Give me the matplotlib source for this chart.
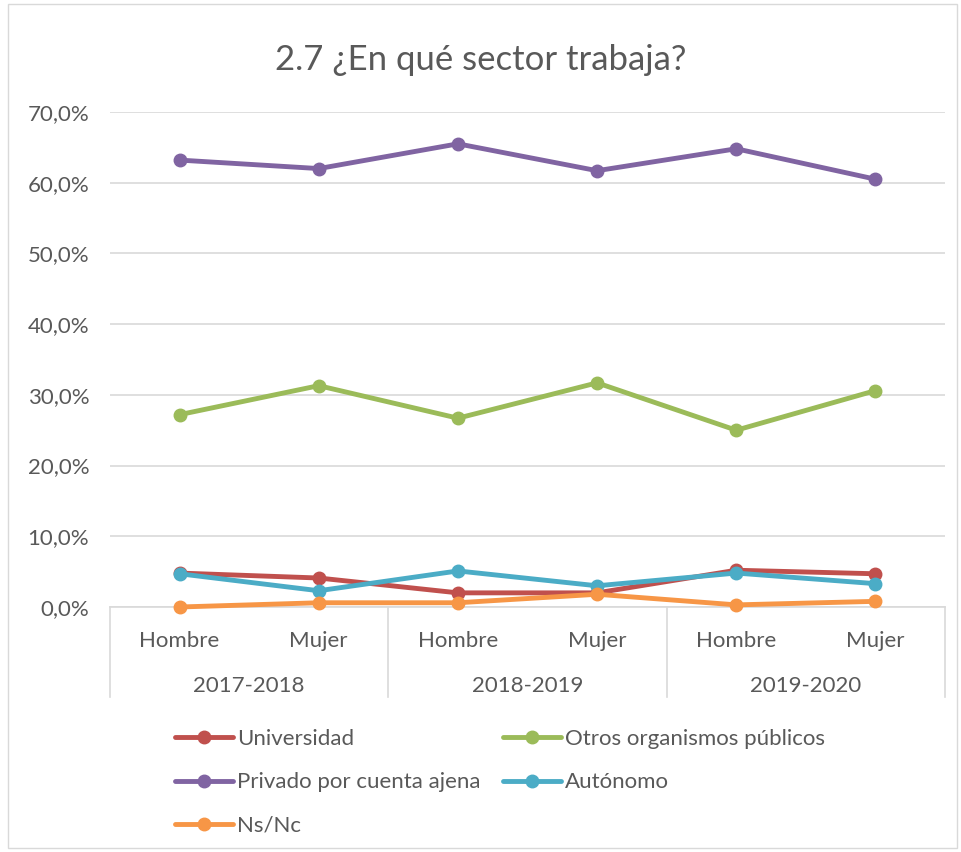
import numpy as np
import matplotlib
matplotlib.use('Agg')
from matplotlib import pyplot as plt
from matplotlib.patches import Rectangle
import matplotlib.transforms as mtransforms

plt.rcParams['font.family'] = ['Lato', 'DejaVu Sans']

# Data
sexes = ['Hombre', 'Mujer', 'Hombre', 'Mujer', 'Hombre', 'Mujer']
years = ['2017-2018', '2018-2019', '2019-2020']
series_names = ['Universidad', 'Otros organismos públicos', 'Privado por cuenta ajena',
                'Autónomo', 'Ns/Nc']
universidad = [4.8, 4.1, 2.0, 2.0, 5.2, 4.7]
otros_publicos = [27.2, 31.3, 26.7, 31.7, 25.0, 30.6]
privado = [63.2, 62.0, 65.5, 61.7, 64.8, 60.5]
autonomo = [4.7, 2.3, 5.1, 3.0, 4.8, 3.3]
ns_nc = [0.0, 0.6, 0.6, 1.8, 0.3, 0.8]
yticks = [0, 10, 20, 30, 40, 50, 60, 70]

colors = ['#C0504D', '#9BBB59', '#8064A2', '#4BACC6', '#F79646']
values = [universidad, otros_publicos, privado, autonomo, ns_nc]
gray = '#595959'
fs = 16

fig = plt.figure(figsize=(9.62, 8.52), dpi=100)
ax = fig.add_axes([110 / 962, 245 / 852, 835 / 962, 495 / 852])

x = np.arange(len(sexes))
lines = []
for name, vals, c in zip(series_names, values, colors):
    ln, = ax.plot(x, vals, color=c, lw=3.5, marker='o', ms=9, label=name,
                  solid_capstyle='round', clip_on=False, zorder=3)
    lines.append(ln)

ax.set_xlim(-0.5, len(sexes) - 0.5)
ax.set_ylim(0, 70)
ax.set_yticks(yticks)
ax.set_yticklabels([f'{v:.1f}%'.replace('.', ',') for v in yticks], fontsize=fs, color=gray)
ax.set_xticks(x)
ax.set_xticklabels(sexes, fontsize=fs, color=gray)
ax.tick_params(axis='y', length=0, pad=15)
ax.tick_params(axis='x', length=0, pad=17)
ax.grid(axis='y', color='#D9D9D9', lw=1.2)
ax.set_axisbelow(True)
for s in ['top', 'right', 'left']:
    ax.spines[s].set_visible(False)
ax.spines['bottom'].set_color('#D9D9D9')
ax.spines['bottom'].set_linewidth(1.2)

# second level category labels and separators
trans = mtransforms.blended_transform_factory(ax.transData, ax.transAxes)
for i, yr in enumerate(years):
    ax.text(2 * i + 0.5, -0.16, yr, transform=trans, ha='center', va='center',
            fontsize=fs, color=gray)
for b in np.arange(len(years) + 1) * 2 - 0.5:
    ax.plot([b, b], [0, -0.182], transform=trans, color='#D9D9D9', lw=1.2,
            clip_on=False)

fig.text(0.5, (852 - 60) / 852, '2.7 ¿En qué sector trabaja?', ha='center', va='center',
         fontsize=25, color=gray)

order = [0, 2, 4, 1, 3]
fig.legend([lines[i] for i in order], [series_names[i] for i in order], ncol=2,
           loc='upper left', bbox_to_anchor=(175 / 962, (852 - 729) / 852),
           frameon=False, fontsize=fs, labelcolor=gray, handlelength=2.6,
           handletextpad=0.2, columnspacing=1.0, labelspacing=1.05, borderpad=0,
           borderaxespad=0)

fig.patches.append(Rectangle((8 / 962, 4 / 852), 949 / 962, 844 / 852,
                             transform=fig.transFigure, fill=False,
                             edgecolor='#D9D9D9', lw=1))

fig.savefig('out.png', dpi=100)
